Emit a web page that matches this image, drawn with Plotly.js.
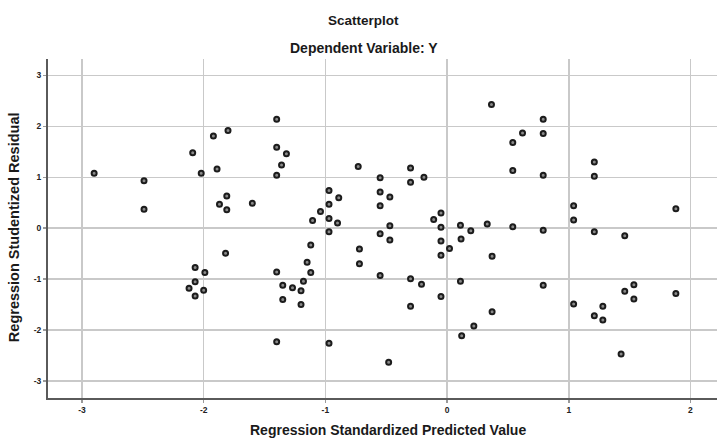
<!DOCTYPE html>
<html>
<head>
<meta charset="utf-8">
<script src="https://cdn.plot.ly/plotly-3.0.1.min.js"></script>
<style>html,body{margin:0;padding:0;background:#fff;}#chart{width:717px;height:440px;}</style>
</head>
<body>
<div id="chart"></div>
<script>
// Regression Standardized Predicted Value
var predicted = [
  -2.90, -2.49, -2.49, -2.09, -2.02, -1.92, -1.89, -1.80, -1.87, -1.81,
  -1.81, -1.60, -1.40, -1.40, -1.32, -1.36, -1.40, -0.97, -0.89, -0.97,
  -1.04, -0.73, -1.105, -0.97, -0.90, -0.97, -1.12, -1.82, -1.15, -1.12,
  -2.07, -1.99, -2.07, -2.12, -2.00, -2.07, -1.40, -1.35, -1.27, -1.18,
  -1.20, -1.35, -1.20, -1.40, -0.97, -0.55, -0.30, -0.30, -0.19, -0.55,
  -0.47, -0.55, -0.47, -0.55, -0.47, -0.05, -0.11, -0.05, 0.11, -0.05,
  0.02, -0.05, -0.72, -0.72, -0.55, -0.30, -0.21, -0.05, -0.30, 0.11,
  0.54, 0.79, 1.04, 1.04, 0.195, 0.33, 0.54, 0.79, 0.115, 0.37,
  0.79, 0.37, 1.04, 0.365, 0.79, 0.62, 0.79, 0.54, 1.21, 1.21,
  1.88, 1.21, 1.46, 1.535, 1.46, 1.535, 1.88, 1.28, 1.21, 1.28,
  -0.48, 0.12, 0.22, 1.43
];
// Regression Studentized Residual
var residual = [
  1.08, 0.93, 0.37, 1.48, 1.08, 1.81, 1.16, 1.92, 0.47, 0.63,
  0.36, 0.49, 2.14, 1.59, 1.46, 1.24, 1.04, 0.74, 0.60, 0.47,
  0.33, 1.21, 0.15, 0.19, 0.10, -0.07, -0.33, -0.49, -0.67, -0.87,
  -0.77, -0.87, -1.05, -1.18, -1.22, -1.33, -0.86, -1.12, -1.17, -1.04,
  -1.23, -1.40, -1.50, -2.23, -2.26, 0.99, 1.18, 0.90, 1.00, 0.71,
  0.61, 0.44, 0.05, -0.11, -0.23, 0.30, 0.17, 0.02, 0.06, -0.25,
  -0.40, -0.53, -0.41, -0.70, -0.93, -0.99, -1.10, -1.34, -1.53, -1.04,
  1.13, 1.04, 0.44, 0.16, -0.05, 0.08, 0.03, -0.04, -0.21, -0.55,
  -1.12, -1.64, -1.49, 2.43, 2.14, 1.87, 1.86, 1.68, 1.30, 1.02,
  0.38, -0.07, -0.15, -1.11, -1.24, -1.39, -1.28, -1.53, -1.72, -1.80,
  -2.63, -2.11, -1.92, -2.47
];
var xTicks = [-3, -2, -1, 0, 1, 2];
var yTicks = [-3, -2, -1, 0, 1, 2, 3];
var chartTitle = 'Scatterplot';
var chartSubtitle = 'Dependent Variable: Y';
var xTitle = 'Regression Standardized Predicted Value';
var yTitle = 'Regression Studentized Residual';

var FONT = 'Liberation Sans, Arial, sans-serif';

var trace = {
  type: 'scatter',
  mode: 'markers',
  x: predicted,
  y: residual,
  marker: {
    size: 5,
    color: '#8a8a8a',
    line: {color: '#1c1c1c', width: 2}
  },
  hoverinfo: 'x+y',
  showlegend: false
};

var axisCommon = {
  showgrid: true,
  gridcolor: '#c9c9c9',
  gridwidth: 1.5,
  zeroline: false,
  showline: true,
  linecolor: '#5a5a5a',
  linewidth: 2,
  ticks: 'outside',
  ticklen: 3,
  tickwidth: 1.5,
  tickcolor: '#9a9a9a',
  tickfont: {family: FONT, size: 8.5, color: '#222', weight: 'bold'},
  fixedrange: true
};

var layout = {
  width: 717,
  height: 440,
  margin: {l: 48, r: 0, t: 59, b: 42},
  paper_bgcolor: '#ffffff',
  plot_bgcolor: '#ffffff',
  xaxis: Object.assign({}, axisCommon, {
    range: [-3.279, 2.218],
    tickmode: 'array',
    tickvals: xTicks,
    ticktext: xTicks.map(String)
  }),
  yaxis: Object.assign({}, axisCommon, {
    range: [-3.333, 3.321],
    tickmode: 'array',
    tickvals: yTicks,
    ticktext: yTicks.map(String)
  }),
  annotations: [
    {text: '<b>' + chartTitle + '</b>', xref: 'paper', yref: 'paper', x: 0.4716, y: 1.115,
     xanchor: 'center', yanchor: 'middle', showarrow: false,
     font: {family: FONT, size: 13.5, color: '#1a1a1a'}},
    {text: '<b>' + chartSubtitle + '</b>', xref: 'paper', yref: 'paper', x: 0.4716, y: 1.033,
     xanchor: 'center', yanchor: 'middle', showarrow: false,
     font: {family: FONT, size: 14, color: '#1a1a1a'}},
    {text: '<b>' + xTitle + '</b>', xref: 'paper', yref: 'paper', x: 0.5075, y: -0.094,
     xanchor: 'center', yanchor: 'middle', showarrow: false,
     font: {family: FONT, size: 14, color: '#1a1a1a'}},
    {text: '<b>' + yTitle + '</b>', xref: 'paper', yref: 'paper', x: -0.0508, y: 0.504,
     xanchor: 'center', yanchor: 'middle', showarrow: false, textangle: -90,
     font: {family: FONT, size: 14.5, color: '#1a1a1a'}}
  ]
};

Plotly.newPlot('chart', [trace], layout, {displayModeBar: false, staticPlot: true});
</script>
</body>
</html>
